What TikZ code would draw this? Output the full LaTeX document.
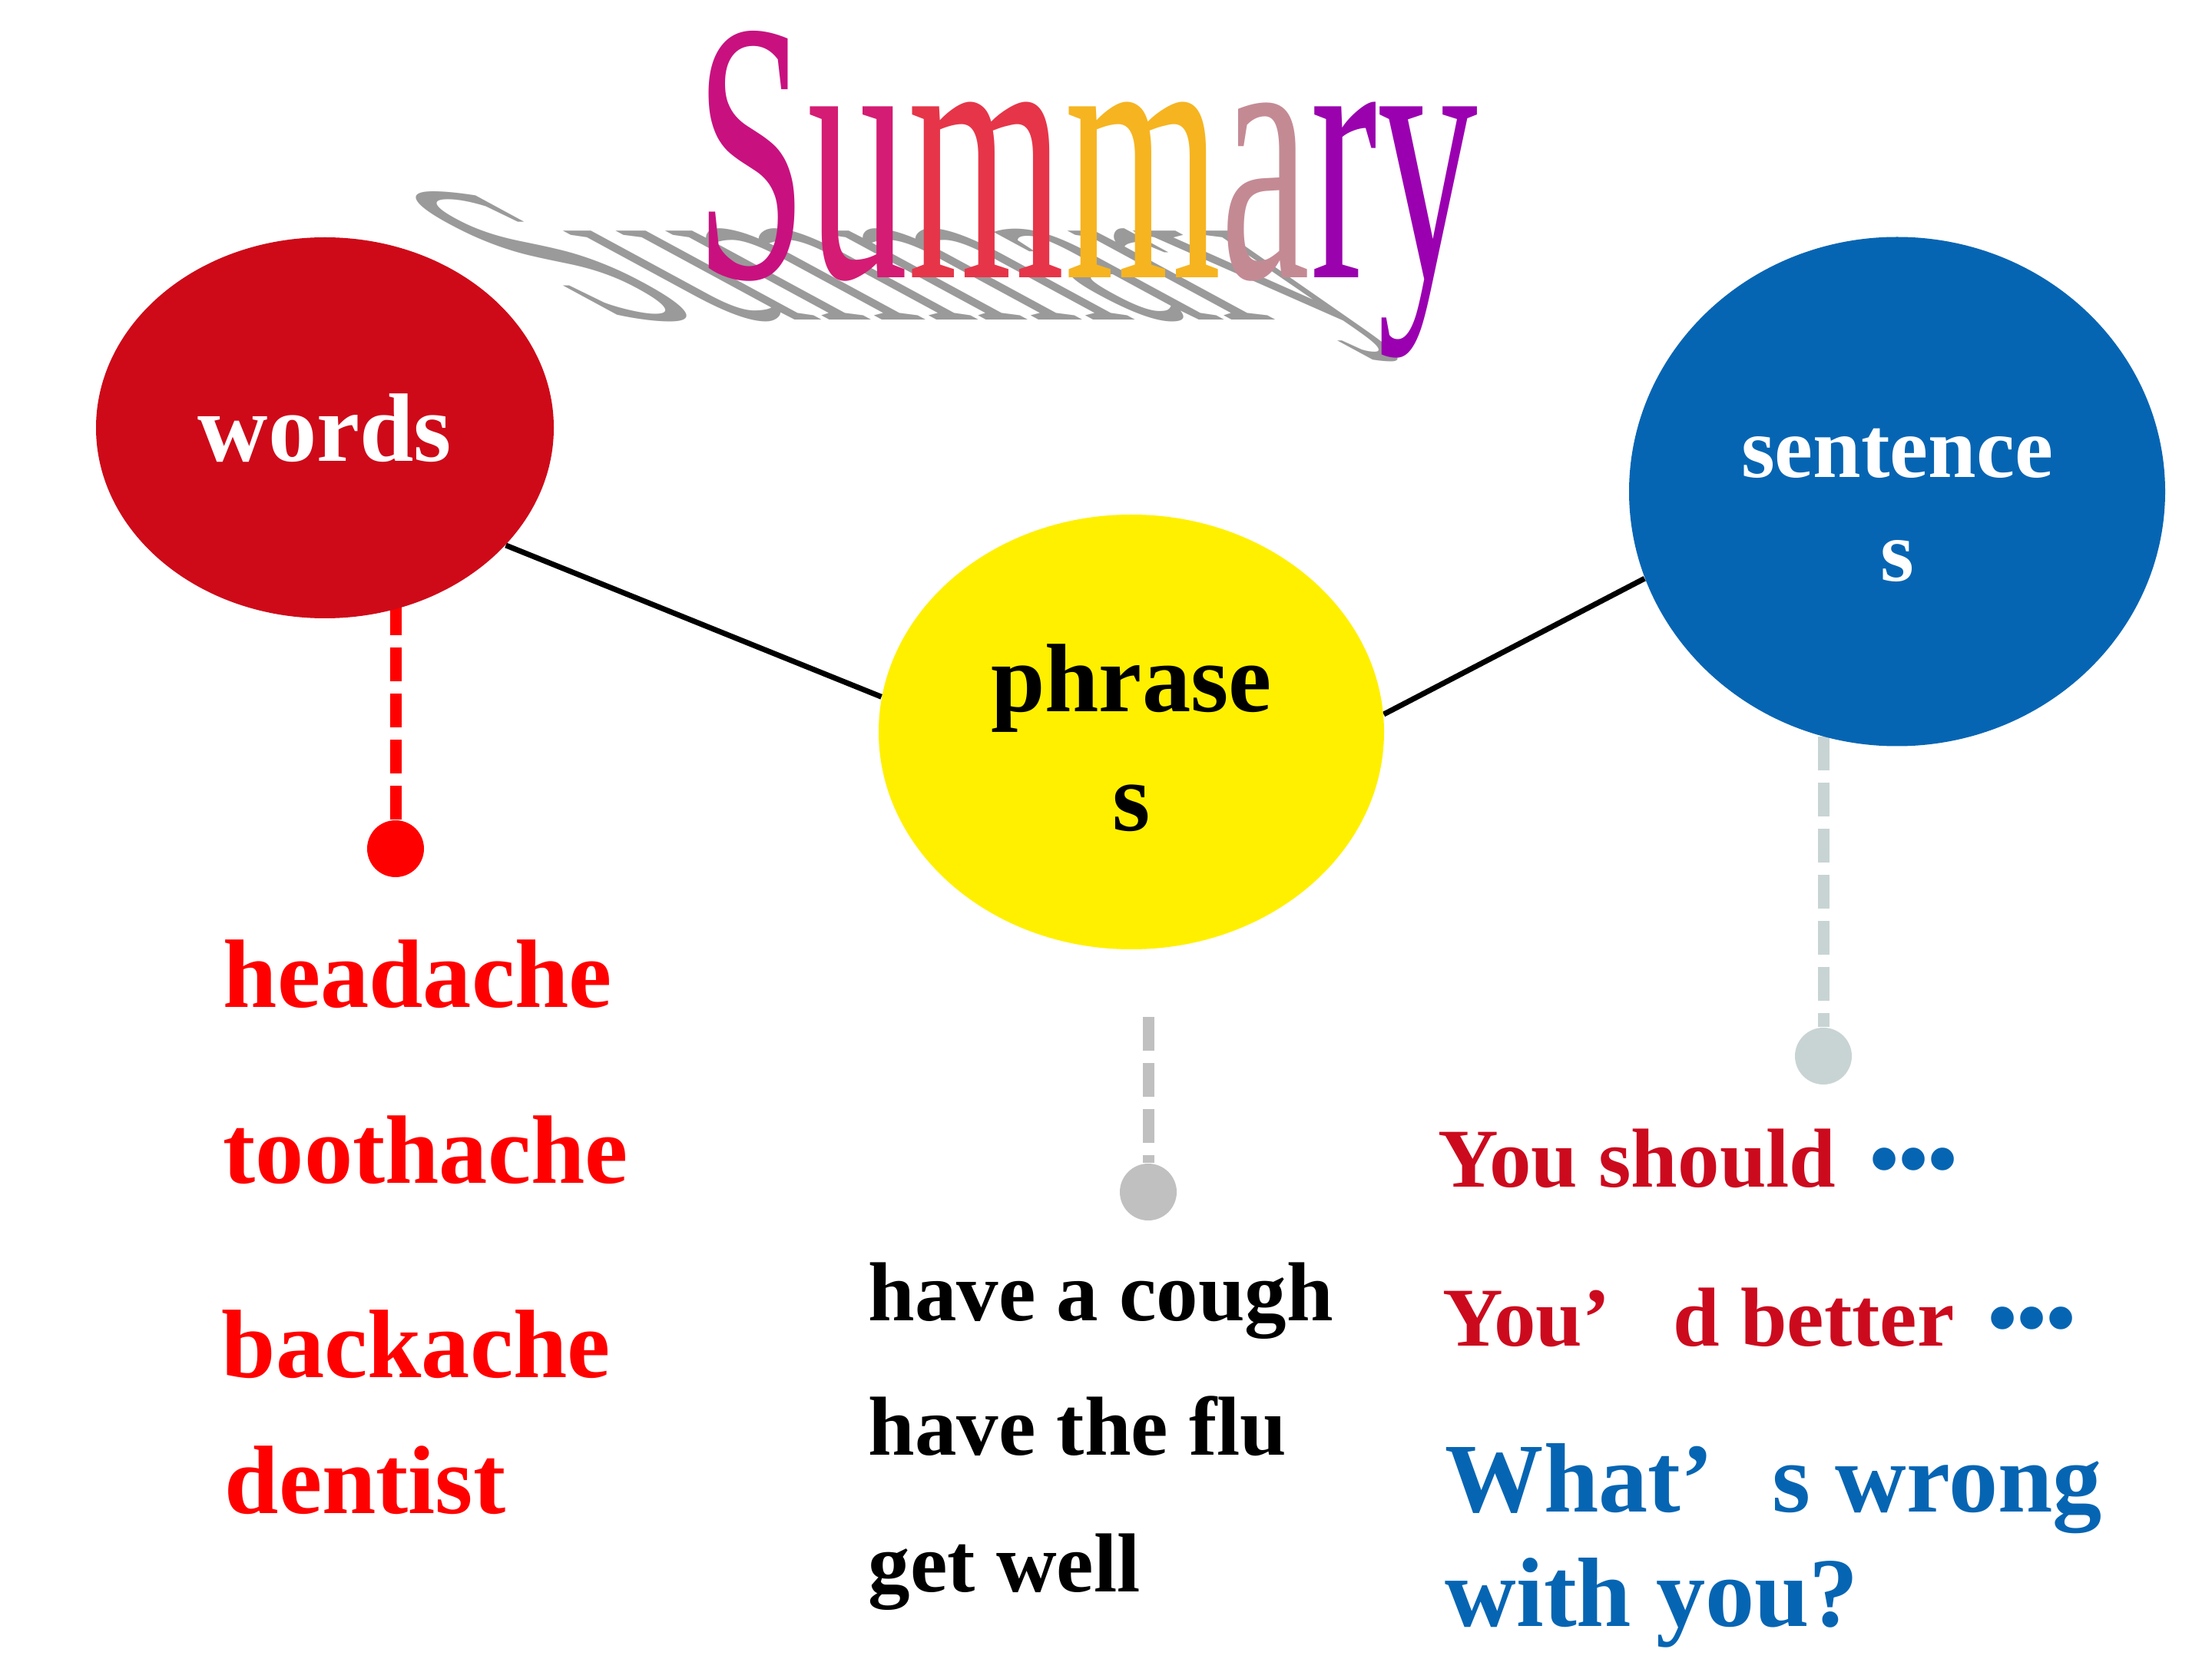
\documentclass[tikz,border=0pt]{standalone}
\usepackage{graphicx}
\usepackage{fontspec}
\setmainfont{Liberation Serif}
\usetikzlibrary{shapes.geometric,backgrounds,positioning}
\definecolor{sumWordRed}{HTML}{CE0A19}
\definecolor{sumYellow}{HTML}{FFF000}
\definecolor{sumBlue}{HTML}{0665B3}
\definecolor{sumBright}{HTML}{FF0000}
\definecolor{sumDeepRed}{HTML}{CC0A1E}
\definecolor{sumGrey}{HTML}{C0C0C0}
\definecolor{sumMist}{HTML}{C8D4D4}
\definecolor{sumShadow}{HTML}{9A9A9A}
\definecolor{ttlS}{HTML}{C8117F}
\definecolor{ttlU}{HTML}{D41C74}
\definecolor{ttlMa}{HTML}{E63549}
\definecolor{ttlMb}{HTML}{F6B420}
\definecolor{ttlA}{HTML}{C48A94}
\definecolor{ttlR}{HTML}{9A02AE}
\definecolor{ttlY}{HTML}{9A00B0}

\begin{document}
\begin{tikzpicture}[
    topic/.style={ellipse,inner sep=0pt,align=center},
    item/.style={anchor=base west,inner sep=0pt},
    link/.style={line width=2pt,black},
    stem/.style={line width=0.15cm,dash pattern=on 0.44cm off 0.16cm},
    knob/.style={circle,inner sep=0pt,minimum size=0.74cm}
  ]
  \useasboundingbox (0,0) rectangle (28.8,-21.6);

  % title and its slanted shadow
  \begin{scope}[shift={(7.97,-4.17)},cm={1,0,-0.96,0.52,(0,0)}]
    \node[item,text=sumShadow,transform shape,font={\fontsize{138}{140}\selectfont}]
      (shadow) at (0,0) {\scalebox{0.54}[1]{Summary}};
  \end{scope}
  \node[item,font={\fontsize{138}{140}\selectfont}] (title) at (9.05,-3.62)
    {\scalebox{0.54}[1]{\color{ttlS}S\color{ttlU}u\color{ttlMa}m\color{ttlMb}m\color{ttlA}a\color{ttlR}r\color{ttlY}y}};

  % the three topics
  \node[topic,fill=sumWordRed,text=white,minimum width=5.96cm,minimum height=4.96cm,
        font={\bfseries\fontsize{36}{44}\selectfont}] (words) at (4.23,-5.57) {words};
  \node[topic,fill=sumYellow,minimum width=6.58cm,minimum height=5.66cm,
        font={\bfseries\fontsize{36}{44}\selectfont}] (phrases) at (14.73,-9.53)
        {\rule{0pt}{29.5pt}phrase\\s};
  \node[topic,fill=sumBlue,text=white,minimum width=6.98cm,minimum height=6.63cm,
        font={\bfseries\fontsize{32}{38.4}\selectfont}] (sentences) at (24.70,-6.40)
        {\rule{0pt}{28pt}sentence\\s};

  \node[knob,fill=sumBright] (wdot) at (5.15,-11.05) {};
  \node[knob,fill=sumGrey] (pdot) at (14.95,-15.52) {};
  \node[knob,fill=sumMist] (sdot) at (23.74,-13.75) {};
  \coordinate (ptop) at (14.95,-13.24);

  % words
  \begin{scope}[every node/.style={item,text=sumBright,font={\bfseries\fontsize{36}{40}\selectfont}}]
    \node (headache) at (2.90,-13.11) {headache};
    \node (toothache) at (2.90,-15.40) {toothache};
    \node (backache) at (2.88,-17.93) {backache};
    \node (dentist) at (2.92,-19.70) {dentist};
  \end{scope}

  % phrases
  \begin{scope}[every node/.style={item,font={\bfseries\fontsize{31}{36}\selectfont}}]
    \node (cough) at (11.30,-17.19) {have a cough};
    \node (flu) at (11.30,-18.94) {have the flu};
    \node (well) at (11.30,-20.72) {get well};
  \end{scope}

  % sentences
  \begin{scope}[every node/.style={item,font={\bfseries\fontsize{31}{36}\selectfont}}]
    \node[text=sumDeepRed] (should) at (18.72,-15.45)
      {You should\hspace{0.4em}{\color{sumBlue}•••}};
    \node[text=sumDeepRed] (better) at (18.78,-17.52)
      {You’\hspace{0.75em}d better\hspace{0.4em}{\color{sumBlue}•••}};
    \node[text=sumBlue,font={\bfseries\fontsize{36.5}{42}\selectfont}] (wrong) at (18.81,-19.68)
      {What’\hspace{0.6em}s wrong};
    \node[text=sumBlue,font={\bfseries\fontsize{36.5}{42}\selectfont}] (withyou) at (18.81,-21.17)
      {with you?};
  \end{scope}

  \begin{scope}[on background layer]
    \fill[white] (0,0) rectangle (28.8,-21.6);
    \draw[link] (words.-33.3) -- (phrases.172.2);
    \draw[link] (phrases.4.4) -- (sentences.199.2);
    \draw[stem,sumBright] (wdot) -- (wdot |- words.center);
    \draw[stem,sumGrey] (ptop) -- (pdot);
    \draw[stem,sumMist] (sentences.253 -| sdot) -- (sdot);
  \end{scope}
\end{tikzpicture}
\end{document}
